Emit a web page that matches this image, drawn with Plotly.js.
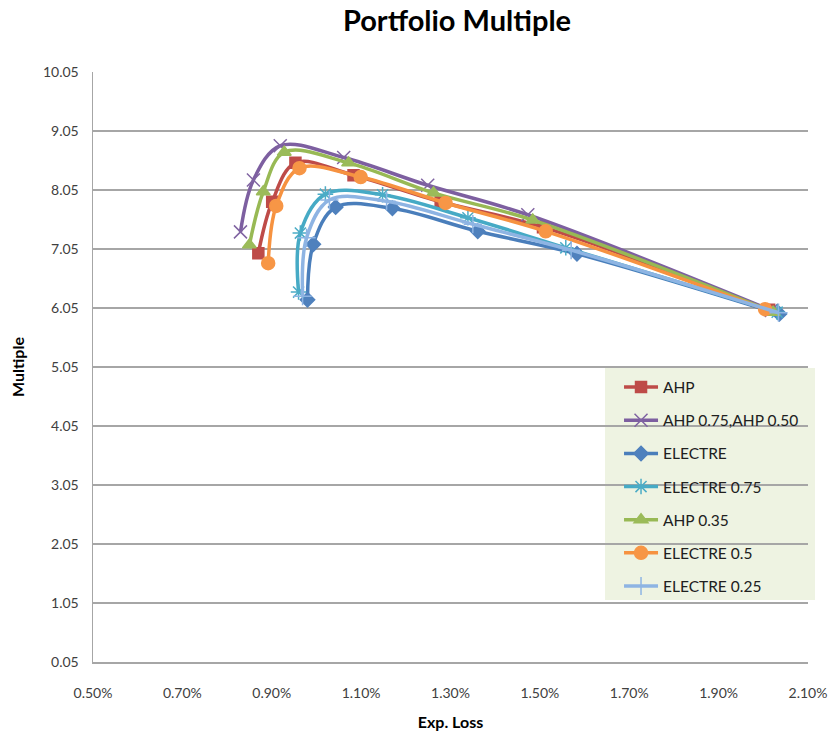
<!DOCTYPE html>
<html>
<head>
<meta charset="utf-8">
<script src="https://cdn.plot.ly/plotly-3.0.1.min.js"></script>
<style>
  html, body { margin: 0; padding: 0; background: #ffffff; }
  #chart { width: 837px; height: 737px; }
</style>
</head>
<body>
<div id="chart"></div>
<script>
// Expected loss (as fractions) and portfolio multiple for each ranking method
const ahpLoss      = [0.00870, 0.00901, 0.00953, 0.01083, 0.01278, 0.01507, 0.02013];
const ahpMult      = [6.98, 7.85, 8.51, 8.30, 7.85, 7.42, 6.02];

const ahp075Loss   = [0.00830, 0.00859, 0.00919, 0.01061, 0.01249, 0.01473, 0.02018];
const ahp075Mult   = [7.34, 8.22, 8.80, 8.60, 8.13, 7.63, 6.01];

const electreLoss  = [0.00980, 0.00993, 0.01043, 0.01170, 0.01361, 0.01583, 0.02036];
const electreMult  = [6.19, 7.13, 7.76, 7.74, 7.35, 6.97, 5.95];

const electre075Loss = [0.00960, 0.00964, 0.01020, 0.01148, 0.01339, 0.01558, 0.02031];
const electre075Mult = [6.32, 7.32, 7.98, 7.97, 7.58, 7.07, 5.98];

const ahp035Loss   = [0.00850, 0.00881, 0.00928, 0.01072, 0.01262, 0.01484, 0.02022];
const ahp035Mult   = [7.12, 8.02, 8.69, 8.51, 8.00, 7.54, 5.98];

const electre05Loss = [0.00892, 0.00910, 0.00962, 0.01099, 0.01289, 0.01513, 0.02004];
const electre05Mult = [6.81, 7.78, 8.42, 8.27, 7.83, 7.35, 6.03];

const electre025Loss = [0.00969, 0.00978, 0.01029, 0.01157, 0.01350, 0.01570, 0.02034];
const electre025Mult = [6.25, 7.24, 7.88, 7.86, 7.47, 7.03, 5.97];

const seriesNames = ['AHP', 'AHP 0.75,AHP 0.50', 'ELECTRE', 'ELECTRE 0.75', 'AHP 0.35', 'ELECTRE 0.5', 'ELECTRE 0.25'];

const yTickValues = [0.05, 1.05, 2.05, 3.05, 4.05, 5.05, 6.05, 7.05, 8.05, 9.05, 10.05];
const xTickValues = [0.005, 0.007, 0.009, 0.011, 0.013, 0.015, 0.017, 0.019, 0.021];

const styles = [
  { color: '#BE4B48', symbol: 'square', size: 11, lineColor: '#BE4B48' },
  { color: '#8064A2', symbol: 'x-thin-open', size: 13, lineColor: '#7D5FA0' },
  { color: '#4F81BD', symbol: 'diamond', size: 11, lineColor: '#4A7EBB' },
  { color: '#4BACC6', symbol: 'asterisk-open', size: 13, lineColor: '#46AAC5' },
  { color: '#9BBB59', symbol: 'triangle-up', size: 12, lineColor: '#98B954' },
  { color: '#F79646', symbol: 'circle', size: 13, lineColor: '#F69240' },
  { color: '#8EB4E3', symbol: 'cross-thin-open', size: 13, lineColor: '#8EB4E3' }
];

const xs = [ahpLoss, ahp075Loss, electreLoss, electre075Loss, ahp035Loss, electre05Loss, electre025Loss];
const ys = [ahpMult, ahp075Mult, electreMult, electre075Mult, ahp035Mult, electre05Mult, electre025Mult];

const traces = seriesNames.map((name, i) => ({
  type: 'scatter',
  mode: 'lines+markers',
  name: name,
  legendgroup: 'g' + i,
  x: xs[i],
  y: ys[i],
  line: { color: styles[i].lineColor, width: 3.5, shape: 'spline', smoothing: 1 },
  marker: {
    symbol: styles[i].symbol,
    size: styles[i].size,
    color: styles[i].color,
    line: { color: styles[i].color, width: 1.5 }
  }
}));

const font = 'Lato, "Liberation Sans", Arial, sans-serif';

const layout = {
  width: 837,
  height: 737,
  paper_bgcolor: '#ffffff',
  plot_bgcolor: '#ffffff',
  margin: { l: 93, r: 29, t: 72, b: 75 },
  font: { family: font, size: 14, color: '#404040' },
  title: {
    text: '<b>Portfolio Multiple</b>',
    font: { family: font, size: 29, color: '#000000' },
    x: 0.546, xanchor: 'center',
    y: 0.972, yanchor: 'middle'
  },
  showlegend: true,
  // shaded panel behind the legend entries
  shapes: [{
    type: 'rect', xref: 'paper', yref: 'paper', layer: 'below',
    x0: 0.7161, x1: 1.0098, y0: 0.1051, y1: 0.4983,
    fillcolor: '#EEF3E2', line: { width: 0 }
  }],
  legend: {
    x: 0.7357, xanchor: 'left',
    y: 0.494, yanchor: 'top',
    bgcolor: 'rgba(0,0,0,0)',
    borderwidth: 0,
    tracegroupgap: 10,
    itemwidth: 34,
    font: { family: font, size: 15.5, color: '#202020' }
  },
  xaxis: {
    range: [0.005, 0.021],
    tickvals: xTickValues,
    tickformat: '.2%',
    showgrid: false,
    zeroline: false,
    showline: true,
    linecolor: '#A6A6A6',
    linewidth: 1.5,
    ticks: '',
    ticklabelstandoff: 18,
    tickfont: { family: font, size: 14, color: '#404040' },
    title: { text: '<b>Exp. Loss</b>', font: { family: font, size: 16, color: '#000000' }, standoff: 16 }
  },
  yaxis: {
    range: [0.05, 10.05],
    tickvals: yTickValues,
    tickformat: '.2f',
    showgrid: true,
    gridcolor: '#A6A6A6',
    gridwidth: 1.5,
    zeroline: false,
    showline: true,
    linecolor: '#A6A6A6',
    linewidth: 1.5,
    ticks: '',
    ticklabelstandoff: 10,
    tickfont: { family: font, size: 14, color: '#404040' },
    title: { text: '<b>Multiple</b>', font: { family: font, size: 16, color: '#000000' }, standoff: 14 }
  }
};

Plotly.newPlot('chart', traces, layout, { displayModeBar: false, staticPlot: true });
</script>
</body>
</html>
